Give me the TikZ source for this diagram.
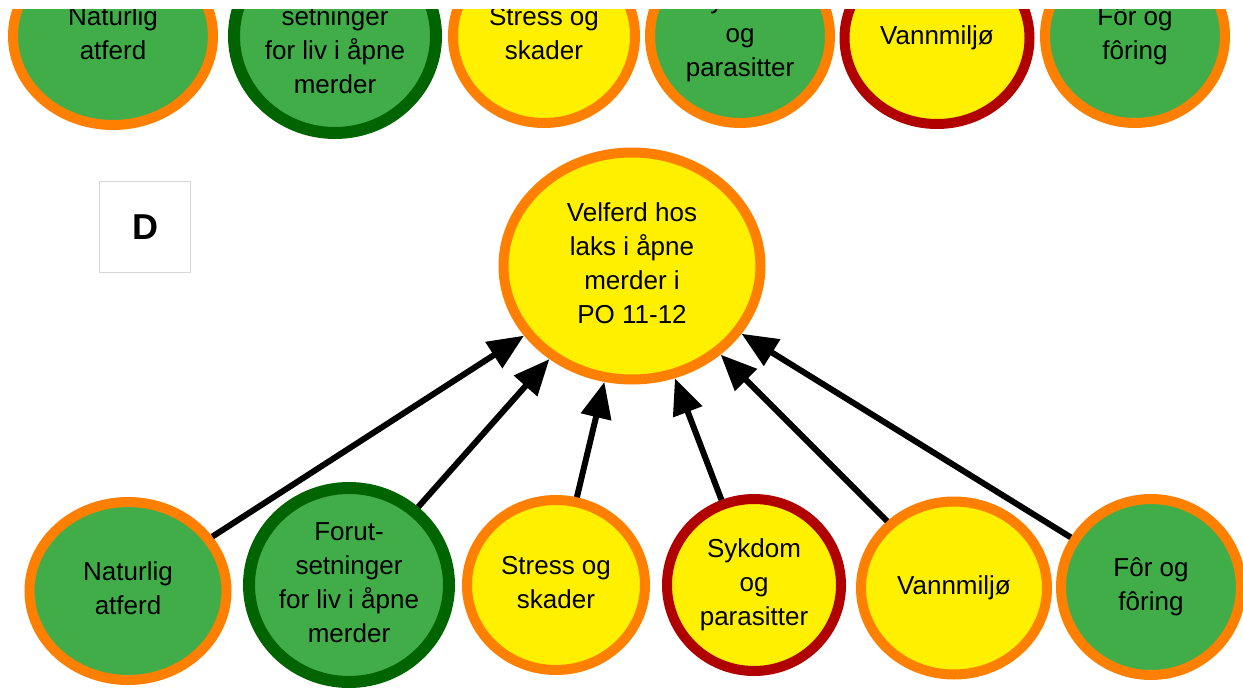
\documentclass[tikz,border=0pt]{standalone}
\usepackage{fontspec}
\setmainfont{Liberation Sans}
\usetikzlibrary{shapes.geometric,arrows.meta}
\definecolor{fillgreen}{RGB}{65,173,73}
\definecolor{borange}{RGB}{255,128,0}
\definecolor{byellow}{RGB}{255,240,0}
\definecolor{dkgreen}{RGB}{0,100,0}
\definecolor{dkred}{RGB}{176,0,0}
\definecolor{boxgray}{RGB}{215,215,215}
\newcommand{\btext}[1]{\smash{\raisebox{-6pt}{\makebox[0pt]{\begin{tabular}{@{}c@{}}#1\end{tabular}}}}}
\begin{document}
\begin{tikzpicture}[x=1pt,y=-1pt,
  bub/.style={ellipse, inner sep=0pt, line width=10pt, font=\fontsize{26}{34}\selectfont},
  esize/.style 2 args={minimum width=#1, minimum height=#2},
  og/.style={bub, draw=borange, fill=fillgreen},
  oy/.style={bub, draw=borange, fill=byellow},
  gg/.style={bub, draw=dkgreen, fill=fillgreen, line width=12pt},
  ry/.style={bub, draw=dkred, fill=byellow},
  arr/.style={-{Triangle[length=36pt,width=30pt]}, line width=6pt, black},
  labelbox/.style={draw=boxgray, line width=1pt, fill=white, minimum width=91pt, minimum height=91pt, inner sep=0pt, font=\fontsize{36}{40}\selectfont\bfseries}
]
\useasboundingbox (0,0) rectangle (1243,688);
\fill[white] (0,0) rectangle (1243,688);
\clip (0,9) rectangle (1243,688);
% top row (cut-off panel)
\node[og, esize={200}{178}] (tnat) at (113,36) {\btext{Naturlig\\atferd}};
\node[gg, esize={202}{194}] (tfo) at (335,36) {\btext{Forut-\\setninger\\for liv i åpne\\merder}};
\node[oy, esize={182}{174}] (tst) at (544,36) {\btext{Stress og\\skader}};
\node[og, esize={180}{174}] (tsy) at (740,36) {\btext{Sykdom\\og\\parasitter}};
\node[ry, esize={185}{172}] (tva) at (937,38) {\btext{Vannmiljø}};
\node[og, esize={180}{174}] (tfr) at (1135,36) {\btext{Fôr og\\fôring}};
% panel D
\node[labelbox] (lab) at (145,227) {D};
\node[oy, esize={257}{227}] (vel) at (632,266) {\btext{Velferd hos\\laks i åpne\\merder i\\PO 11-12}};
\node[og, esize={197}{178}] (nat) at (128,591) {\btext{Naturlig\\atferd}};
\node[gg, esize={200}{194}] (fo) at (349,585) {\btext{Forut-\\setninger\\for liv i åpne\\merder}};
\node[oy, esize={178}{170}] (st) at (556,585) {\btext{Stress og\\skader}};
\node[ry, esize={174}{172}] (sy) at (754,585) {\btext{Sykdom\\og\\parasitter}};
\node[oy, esize={186}{173}] (va) at (954,588) {\btext{Vannmiljø}};
\node[og, esize={180}{176}] (fr) at (1151,587) {\btext{Fôr og\\fôring}};
\foreach \s in {nat,fo,st,sy,va,fr}
  \draw[arr] (\s) -- (vel);
\end{tikzpicture}
\end{document}
